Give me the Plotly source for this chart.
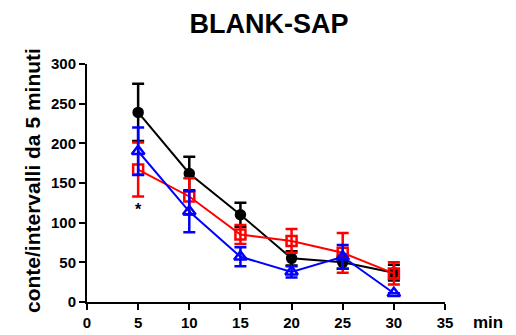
import plotly.graph_objects as go

x_min = [5, 10, 15, 20, 25, 30]
black_vals = [239, 162, 110, 55, 50, 37]
black_err = [36, 21, 15, 9, 8, 10]
red_vals = [167, 133, 85, 77, 62, 36]
red_err = [34, 23, 12, 15, 25, 14]
blue_vals = [190, 114, 57, 38, 57, 11]
blue_err = [30, 26, 12, 7, 15, 0]

x_ticks = [0, 5, 10, 15, 20, 25, 30, 35]
y_ticks = [0, 50, 100, 150, 200, 250, 300]

fig = go.Figure()

def add(vals, err, color, symbol, size):
    fig.add_trace(go.Scatter(
        x=x_min, y=vals, mode="lines+markers",
        line=dict(color=color, width=2),
        marker=dict(symbol=symbol, size=size, color=color,
                    line=dict(color=color, width=2.5)),
        error_y=dict(type="data", array=err, visible=True,
                     color=color, thickness=2.5, width=6),
        showlegend=False, cliponaxis=False))

add(black_vals, black_err, "black", "circle", 9)
add(red_vals, red_err, "#ff0000", "square-open", 10)
add(blue_vals, blue_err, "#0000ff", "triangle-up-open", 11)

fig.add_annotation(x=5, y=117, text="<b>*</b>", showarrow=False,
                   font=dict(size=16, color="black", family="Liberation Sans"))
fig.add_annotation(x=1, y=0, xref="paper", yref="paper", xanchor="left", yanchor="middle",
                   xshift=26, yshift=-20, text="<b>min</b>", showarrow=False,
                   font=dict(size=17, color="black", family="Liberation Sans"))
fig.add_annotation(x=0, y=0.5, xref="paper", yref="paper", xanchor="center", yanchor="middle",
                   xshift=-55, yshift=2, textangle=-90,
                   text="<b>conte/intervalli da 5 minuti</b>", showarrow=False,
                   font=dict(size=21, color="black", family="Liberation Sans"))

tickfont = dict(family="Liberation Sans", size=15, color="black", weight="bold")

fig.update_layout(
    width=516, height=335,
    margin=dict(l=79, r=79, t=56, b=41),
    paper_bgcolor="white", plot_bgcolor="white",
    title=dict(text="<b>BLANK-SAP</b>", x=0.506, xanchor="center", y=0.955, yanchor="middle",
               font=dict(size=27, color="black", family="Liberation Sans")),
    font=dict(family="Liberation Sans", size=14, color="black"),
    xaxis=dict(range=[0, 35], tickvals=x_ticks, showgrid=False, zeroline=False,
               showline=True, linecolor="black", linewidth=2, tickfont=tickfont,
               ticks="outside", ticklen=6, tickwidth=2, tickcolor="black"),
    yaxis=dict(range=[0, 300], tickvals=y_ticks, showgrid=False, zeroline=False,
               showline=True, linecolor="black", linewidth=2, tickfont=tickfont,
               ticks="outside", ticklen=6, tickwidth=2, tickcolor="black"),
)

fig.write_html("out.html")
